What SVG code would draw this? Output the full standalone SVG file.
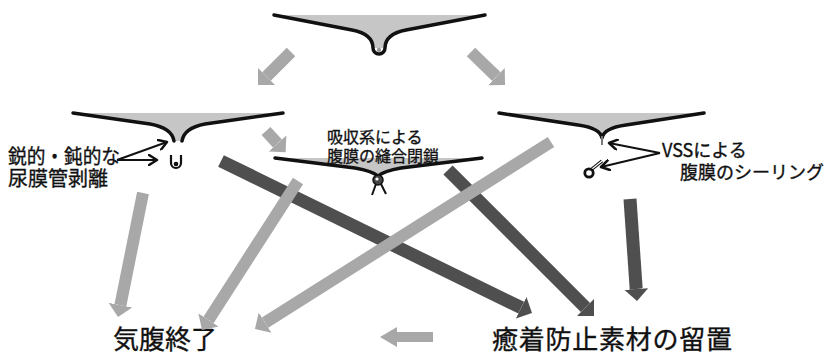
<svg xmlns="http://www.w3.org/2000/svg" width="838" height="356" viewBox="0 0 838 356">
  <style>
    .membrane { fill: none; stroke: #111; stroke-width: 3.5; stroke-linecap: round; stroke-linejoin: round; }
    .fat { fill: #c6c6c6; stroke: none; }
    .label { font-family: "Noto Sans CJK JP", "Noto Sans", sans-serif; fill: #111; stroke: #111; stroke-width: 0.35; }
    .light { stroke: #a8a8a8; stroke-width: 12; fill: none; marker-end: url(#headLight); }
    .dark { stroke: #4f4f4f; stroke-width: 13; fill: none; marker-end: url(#headDark); }
    .pointer { stroke: #111; stroke-width: 2; fill: none; marker-end: url(#chevron); }
  </style>
  <defs>
    <marker id="headLight" markerUnits="userSpaceOnUse" markerWidth="13" markerHeight="26" refX="0" refY="13" orient="auto">
      <path d="M0,1 L12,13 L0,25 Z" fill="#a8a8a8"/>
    </marker>
    <marker id="headDark" markerUnits="userSpaceOnUse" markerWidth="13" markerHeight="26" refX="0" refY="13" orient="auto">
      <path d="M0,1 L12,13 L0,25 Z" fill="#4f4f4f"/>
    </marker>
    <marker id="headSmall" markerUnits="userSpaceOnUse" markerWidth="18" markerHeight="22" refX="0" refY="11" orient="auto">
      <path d="M0,1 L17,11 L0,21 Z" fill="#a8a8a8"/>
    </marker>
    <marker id="chevron" markerUnits="userSpaceOnUse" markerWidth="12" markerHeight="12" refX="9" refY="6" orient="auto">
      <path d="M1,1 L9,6 L1,11" fill="none" stroke="#111" stroke-width="2.5" stroke-linecap="round" stroke-linejoin="round"/>
    </marker>
  </defs>

  <rect width="838" height="356" fill="#fff"/>

  <!-- peritoneum with urachus still attached -->
  <g id="peritoneum-start">
    <path class="fat" d="M274,15 L485,15 L406,30 Q385,34 385,48 L373,48 Q373,34 352,30 Z"/>
    <path class="membrane" d="M274,15 L352,30 Q373,34 373,48 A6,6 0 0 0 385,48 Q385,34 406,30 L485,15"/>
    <circle cx="379" cy="50" r="2.2" fill="#999"/>
  </g>

  <!-- sharp/blunt dissection -->
  <g id="dissection">
    <path class="fat" d="M73,113 L283,113 L205,124 Q184,128 182,141 L174,141 Q172,128 150,124 Z"/>
    <path class="membrane" d="M73,113 L150,124 Q172,128 174,141"/>
    <path class="membrane" d="M283,113 L205,124 Q184,128 182,141"/>
    <path d="M171,155 L171,163 A5,5 0 0 0 181,163 L181,155" fill="none" stroke="#111" stroke-width="2.2"/>
    <circle cx="176" cy="164" r="2.3" fill="#111"/>
    <text class="label" font-size="20">
      <tspan x="8" y="164" textLength="112" lengthAdjust="spacingAndGlyphs">鋭的・鈍的な</tspan>
      <tspan x="8" y="186">尿膜管剥離</tspan>
    </text>
    <line class="pointer" x1="117" y1="160" x2="167" y2="142"/>
    <line class="pointer" x1="117" y1="160" x2="157" y2="160"/>
  </g>

  <!-- suture closure with absorbable thread -->
  <g id="suture">
    <path class="fat" d="M275,158 L482,158 L401,168 Q384,171 378,176 Q372,171 355,168 Z"/>
    <path class="membrane" d="M275,158 L355,168 Q372,171 378,176 Q384,171 401,168 L482,158" stroke-width="3"/>
    <circle cx="378" cy="180" r="5" fill="#444" stroke="#111" stroke-width="1.5"/>
    <circle cx="377" cy="179" r="1.6" fill="#fff"/>
    <path d="M376,184 L372,195 M381,184 L386,194" stroke="#111" stroke-width="2" fill="none"/>
    <text class="label" font-size="16">
      <tspan x="327" y="143">吸収系による</tspan>
      <tspan x="327" y="162">腹膜の縫合閉鎖</tspan>
    </text>
  </g>

  <!-- sealing with vessel sealing system -->
  <g id="sealing">
    <path class="fat" d="M499,113 L704,113 L626,125 Q604,128 602,138 Q600,128 578,125 Z"/>
    <path class="membrane" d="M499,113 L578,125 Q600,128 602,138 Q604,128 626,125 L704,113"/>
    <line x1="602" y1="136" x2="602" y2="145" stroke="#777" stroke-width="2"/>
    <line x1="592" y1="169" x2="602" y2="161" stroke="#111" stroke-width="3.5"/>
    <line x1="592" y1="169" x2="602" y2="161" stroke="#fff" stroke-width="1.2"/>
    <circle cx="589" cy="173" r="4.2" fill="#fff" stroke="#111" stroke-width="2.8"/>
    <text class="label" font-size="18">
      <tspan x="662" y="157">VSSによる</tspan>
      <tspan x="680" y="179">腹膜のシーリング</tspan>
    </text>
    <line class="pointer" x1="660" y1="153" x2="609" y2="143"/>
    <line class="pointer" x1="660" y1="153" x2="601" y2="167"/>
  </g>

  <g id="end-pneumo">
    <text class="label" x="113" y="349" font-size="26">気腹終了</text>
  </g>

  <g id="anti-adhesion">
    <text class="label" x="492" y="349" font-size="26" textLength="240" lengthAdjust="spacing">癒着防止素材の留置</text>
  </g>

  <!-- flow arrows: dark ones first, light ones pass over them -->
  <g id="connectors">
    <line class="dark" x1="221" y1="161" x2="521.2" y2="307.7"/>
    <line class="dark" x1="448" y1="170" x2="585.5" y2="307.5"/>
    <line class="dark" x1="630" y1="199" x2="636.2" y2="289"/>

    <line class="light" x1="291" y1="52" x2="266.5" y2="76.5"/>
    <line class="light" x1="471" y1="52" x2="496.4" y2="76.6"/>
    <line class="light" x1="266" y1="131" x2="277.5" y2="143.5"/>
    <line class="light" x1="143" y1="193" x2="120.4" y2="305.2"/>
    <line class="light" x1="298" y1="181" x2="208.5" y2="319.9"/>
    <line class="light" x1="551" y1="142" x2="265.1" y2="322.6"/>
    <line x1="433" y1="337" x2="397" y2="337" stroke="#a8a8a8" stroke-width="10" marker-end="url(#headSmall)"/>
  </g>
</svg>
